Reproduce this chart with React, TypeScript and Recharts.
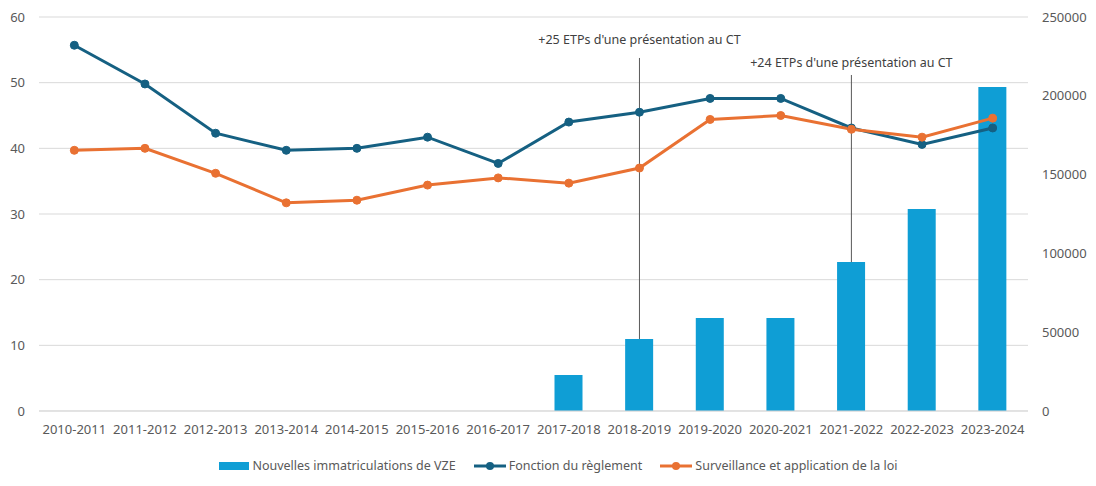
import React from 'react';
import {
  ComposedChart, Bar, Line, XAxis, YAxis, CartesianGrid, Legend, ReferenceLine,
} from 'recharts';

const years = [
  '2010-2011', '2011-2012', '2012-2013', '2013-2014', '2014-2015', '2015-2016', '2016-2017',
  '2017-2018', '2018-2019', '2019-2020', '2020-2021', '2021-2022', '2022-2023', '2023-2024',
];
const reglement = [55.7, 49.8, 42.3, 39.7, 40.0, 41.7, 37.7, 44.0, 45.5, 47.6, 47.6, 43.1, 40.6, 43.1];
const surveillance = [39.7, 40.0, 36.2, 31.7, 32.1, 34.4, 35.5, 34.7, 37.0, 44.4, 45.0, 42.9, 41.7, 44.6];
const immatriculations = [null, null, null, null, null, null, null, 22800, 45700, 59000, 59000, 94500, 128200, 205600];

const leftTicks = [0, 10, 20, 30, 40, 50, 60];
const rightTicks = [0, 50000, 100000, 150000, 200000, 250000];

// annotations: category, text, bottom/top of the leader line (right axis units)
const notes = [
  { year: '2018-2019', text: "+25 ETPs d'une présentation au CT", from: 45700, to: 224000, offset: 14 },
  { year: '2021-2022', text: "+24 ETPs d'une présentation au CT", from: 94500, to: 213200, offset: 8 },
];

const BAR = '#0F9ED5';
const BLUE = '#156082';
const ORANGE = '#E97132';
const TXT = '#595959';
const FONT = '"Noto Sans", sans-serif';

const data = years.map((y, i) => ({
  year: y,
  vze: immatriculations[i],
  reglement: reglement[i],
  surveillance: surveillance[i],
}));

const legendItems = [
  { name: 'Nouvelles immatriculations de VZE', color: BAR, kind: 'bar' },
  { name: 'Fonction du règlement', color: BLUE, kind: 'line' },
  { name: 'Surveillance et application de la loi', color: ORANGE, kind: 'line' },
];

const ChartLegend = () => (
  <div style={{ height: 45, display: 'flex', justifyContent: 'center', alignItems: 'center', paddingLeft: 20, gap: 17, fontFamily: FONT, fontSize: 12.5, color: TXT, boxSizing: 'border-box', paddingTop: 4 }}>
    {legendItems.map((it) => (
      <div key={it.name} style={{ display: 'flex', alignItems: 'center' }}>
        {it.kind === 'bar' ? (
          <svg width={32} height={10}><rect x={1} y={1} width={30} height={8} fill={it.color} /></svg>
        ) : (
          <svg width={34} height={10}>
            <line x1={1} y1={5} x2={33} y2={5} stroke={it.color} strokeWidth={3} />
            <circle cx={17} cy={5} r={4} fill={it.color} />
          </svg>
        )}
        <span style={{ marginLeft: 2 }}>{it.name}</span>
      </div>
    ))}
  </div>
);

export default function App() {
  return (
    <div style={{ position: 'absolute', left: 0, top: 0, width: 1096, height: 486, background: '#fff' }}>
      <ComposedChart width={1096} height={486} data={data} margin={{ top: 17, right: 0, left: 0, bottom: 0 }}>
        <CartesianGrid yAxisId="left" vertical={false} stroke="#D9D9D9" />
        <XAxis
          dataKey="year"
          axisLine={{ stroke: '#D9D9D9' }}
          tickLine={false}
          tickMargin={8}
          height={30}
          interval={0}
          tick={{ fill: TXT, fontSize: 13, fontFamily: FONT }}
        />
        <YAxis
          yAxisId="left"
          domain={[0, 60]}
          ticks={leftTicks}
          width={39}
          axisLine={false}
          tickLine={false}
          tickMargin={8}
          tick={{ fill: TXT, fontSize: 13, fontFamily: FONT }}
        />
        <YAxis
          yAxisId="right"
          orientation="right"
          domain={[0, 250000]}
          ticks={rightTicks}
          width={68}
          axisLine={false}
          tickLine={false}
          tickMargin={8}
          tick={{ fill: TXT, fontSize: 13, fontFamily: FONT }}
        />
        <Legend verticalAlign="bottom" content={<ChartLegend />} wrapperStyle={{ left: 0, width: 1096 }} />
        <Bar yAxisId="right" dataKey="vze" name="Nouvelles immatriculations de VZE" fill={BAR} barSize={28} isAnimationActive={false} />
        {notes.map((n) => (
          <ReferenceLine
            key={n.year}
            yAxisId="right"
            segment={[{ x: n.year, y: n.from }, { x: n.year, y: n.to }]}
            stroke={TXT}
            strokeWidth={1}
            label={{ value: n.text, position: 'top', offset: n.offset, fill: '#404040', fontSize: 12.5, fontFamily: FONT }}
          />
        ))}
        <Line yAxisId="left" dataKey="reglement" name="Fonction du règlement" stroke={BLUE} strokeWidth={3}
          dot={{ r: 4, fill: BLUE, stroke: BLUE, strokeWidth: 1 }} isAnimationActive={false} />
        <Line yAxisId="left" dataKey="surveillance" name="Surveillance et application de la loi" stroke={ORANGE} strokeWidth={3}
          dot={{ r: 4, fill: ORANGE, stroke: ORANGE, strokeWidth: 1 }} isAnimationActive={false} />
      </ComposedChart>
    </div>
  );
}
